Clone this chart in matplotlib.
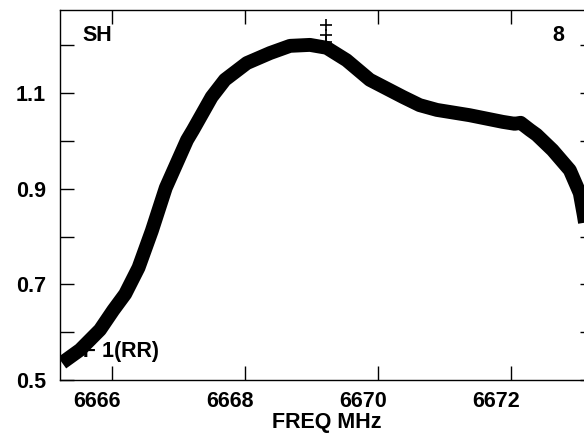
import matplotlib.pyplot as plt
import matplotlib.transforms as mtransforms
from matplotlib.ticker import FixedLocator

plt.rcParams['font.family'] = ['Liberation Sans', 'DejaVu Sans']
plt.rcParams['font.weight'] = 'bold'

# spectrum (MHz, flux)
freq = [6665.25, 6665.52, 6665.82, 6666.02, 6666.20, 6666.40, 6666.60, 6666.81,
        6667.13, 6667.22, 6667.50, 6667.70, 6668.03, 6668.38, 6668.68, 6668.98,
        6669.23, 6669.53, 6669.88, 6670.38, 6670.63, 6670.89, 6671.38, 6671.88,
        6672.06, 6672.15, 6672.29, 6672.39, 6672.63, 6672.89, 6673.04, 6673.10,
        6673.16]
flux = [0.536, 0.563, 0.605, 0.646, 0.680, 0.735, 0.812, 0.902,
        1.002, 1.023, 1.092, 1.128, 1.163, 1.184, 1.199, 1.201,
        1.195, 1.169, 1.128, 1.092, 1.075, 1.065, 1.054, 1.040,
        1.036, 1.038, 1.023, 1.013, 0.981, 0.939, 0.891, 0.845,
        0.793]
# a few stray points above the peak
spike_f = [6669.22, 6669.22, 6669.22]
spike_v = [1.243, 1.222, 1.207]

xticks = [6666, 6668, 6670, 6672]
yticks = [0.5, 0.7, 0.9, 1.1]
yminor = [0.6, 0.8, 1.0, 1.2]

fig = plt.figure(figsize=(5.84, 4.33), dpi=100)
ax = fig.add_axes([0.1027, 0.1224, 0.914, 0.8545])

ax.plot(freq, flux, color='black', linewidth=10, solid_joinstyle='round',
        solid_capstyle='butt', zorder=3)
ax.plot(spike_f, spike_v, linestyle='none', marker='+', color='black',
        markersize=9, markeredgewidth=1.2, zorder=3)

ax.set_xlim(6665.218, 6673.25)
ax.set_ylim(0.5, 1.274)
ax.set_xticks(xticks)
ax.set_yticks(yticks)
ax.yaxis.set_minor_locator(FixedLocator(yminor))
ax.tick_params(which='both', direction='in', length=10, width=1,
               top=True, right=True, labelsize=15.5)
ax.tick_params(axis='y', pad=10)
ax.tick_params(axis='x', pad=8)
ax.set_xticklabels([str(t) for t in xticks], fontweight='bold')
ax.set_yticklabels([f'{t:.1f}' for t in yticks], fontweight='bold')
# x labels sit a little left of their ticks in the original
shift = mtransforms.ScaledTranslation(-0.145, 0, fig.dpi_scale_trans)
for lab in ax.get_xticklabels():
    lab.set_transform(lab.get_transform() + shift)
for s in ax.spines.values():
    s.set_linewidth(1)

# axis title placed by hand: the original packs it tight to the bottom edge
fig.text(0.56, 0.012, 'FREQ MHz', fontsize=15.5, fontweight='bold',
         ha='center', va='baseline')
ax.text(0.043, 0.932, 'SH', transform=ax.transAxes, fontsize=15.5,
        fontweight='bold', va='center', ha='left', zorder=1)
ax.text(0.923, 0.932, '8', transform=ax.transAxes, fontsize=15.5,
        fontweight='bold', va='center', ha='left', zorder=1)
ax.text(0.032, 0.076, 'IF 1(RR)', transform=ax.transAxes, fontsize=15.5,
        fontweight='bold', va='center', ha='left', zorder=1)

fig.savefig('out.png', dpi=100)
